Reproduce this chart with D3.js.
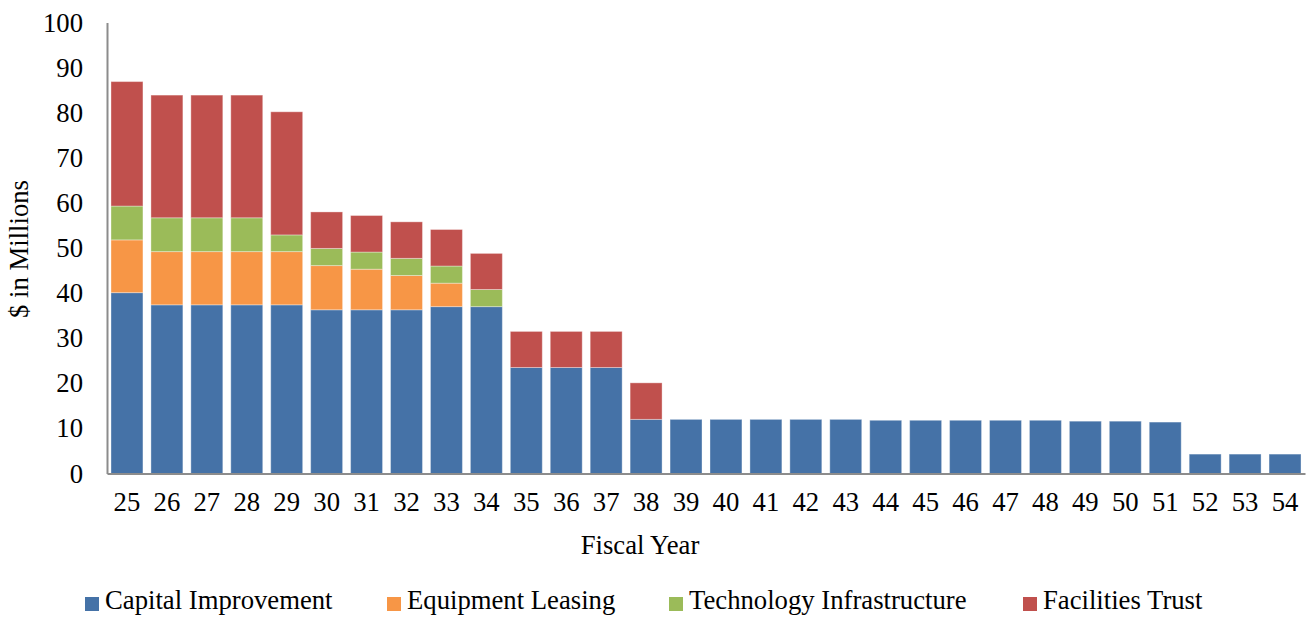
<!DOCTYPE html>
<html><head><meta charset="utf-8">
<script src="https://cdn.jsdelivr.net/npm/d3@7"></script>
<style>body{margin:0;background:#fff}svg{display:block}text{font-family:"Liberation Serif","Times New Roman",serif;fill:#000}</style>
</head><body><svg id="c" width="1312" height="618"></svg>
<script>
const years = ["25","26","27","28","29","30","31","32","33","34","35","36","37","38","39","40","41","42","43","44","45","46","47","48","49","50","51","52","53","54"];
const capitalImprovement = [40.1,37.4,37.4,37.4,37.4,36.3,36.3,36.3,37.0,37.0,23.5,23.5,23.5,12.0,12.0,12.0,12.0,12.0,12.0,11.8,11.8,11.8,11.8,11.8,11.6,11.6,11.4,4.3,4.3,4.3];
const equipmentLeasing = [11.7,11.8,11.8,11.8,11.8,9.8,9.0,7.6,5.2,0,0,0,0,0,0,0,0,0,0,0,0,0,0,0,0,0,0,0,0,0];
const technologyInfrastructure = [7.5,7.5,7.5,7.5,3.7,3.8,3.8,3.8,3.8,3.8,0,0,0,0,0,0,0,0,0,0,0,0,0,0,0,0,0,0,0,0];
const facilitiesTrust = [27.6,27.2,27.2,27.2,27.3,8.1,8.1,8.1,8.1,8.0,8.0,8.0,8.0,8.1,0,0,0,0,0,0,0,0,0,0,0,0,0,0,0,0];
const seriesNames = ["Capital Improvement","Equipment Leasing","Technology Infrastructure","Facilities Trust"];
const colors = ["#4572A7","#F79646","#9BBB59","#C0504D"];
const yTicks = [0,10,20,30,40,50,60,70,80,90,100];

const svg = d3.select("#c");
const m = {l:107, r:1305, t:22.5, b:473.5};
const keys = ["ci","el","ti","ft"];
const rows = years.map((y,i)=>({year:y, ci:capitalImprovement[i], el:equipmentLeasing[i], ti:technologyInfrastructure[i], ft:facilitiesTrust[i]}));
const stack = d3.stack().keys(keys)(rows);

const x = d3.scaleBand().domain(years).range([m.l, m.r]).paddingInner(0.2).paddingOuter(0.1);
const y = d3.scaleLinear().domain([0,100]).range([m.b, m.t]);
const color = d3.scaleOrdinal().domain(keys).range(colors);

svg.append("g").selectAll("g").data(stack).join("g")
  .attr("fill", d=>color(d.key))
  .selectAll("rect").data(d=>d).join("rect")
  .filter(d=>d[1]-d[0]>0)
  .attr("x", d=>x(d.data.year))
  .attr("width", x.bandwidth())
  .attr("y", d=>y(d[1]))
  .attr("height", d=>y(d[0])-y(d[1]))
  .attr("stroke","rgba(255,255,255,0.35)").attr("stroke-width",1);

const FS = 26.7;
// axes
const yAxis = svg.append("g").attr("transform",`translate(${m.l},0)`)
  .call(d3.axisLeft(y).tickValues(yTicks).tickSize(0).tickPadding(24));
yAxis.select(".domain").attr("stroke","#8c8c8c").attr("stroke-width",2);
yAxis.selectAll("text").attr("font-size",FS).attr("font-family","Liberation Serif");

const xAxis = svg.append("g").attr("transform",`translate(0,${m.b})`)
  .call(d3.axisBottom(x).tickSize(0).tickPadding(19));
xAxis.select(".domain").attr("stroke","#8c8c8c").attr("stroke-width",2);
xAxis.selectAll("text").attr("font-size",FS).attr("font-family","Liberation Serif");

svg.append("text").attr("transform","translate(22,249) rotate(-90)").attr("text-anchor","middle")
  .attr("dominant-baseline","middle").attr("font-size",FS).text("$ in Millions");
svg.append("text").attr("x",640).attr("y",548).attr("text-anchor","middle")
  .attr("dominant-baseline","middle").attr("font-size",FS).text("Fiscal Year");

const legX = [85,387,669,1023];
const leg = svg.append("g").selectAll("g").data(seriesNames).join("g")
  .attr("transform",(d,i)=>`translate(${legX[i]},597)`);
leg.append("rect").attr("width",14).attr("height",14).attr("fill",(d,i)=>colors[i]);
leg.append("text").attr("x",20).attr("y",6).attr("dominant-baseline","middle").attr("font-size",FS).text(d=>d);
</script></body></html>
